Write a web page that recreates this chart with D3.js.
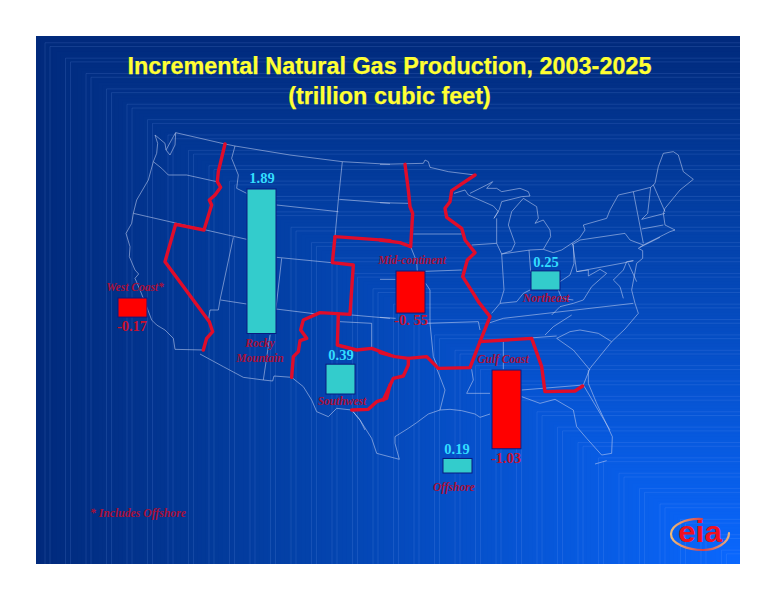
<!DOCTYPE html>
<html>
<head>
<meta charset="utf-8">
<script src="https://cdn.jsdelivr.net/npm/d3@7"></script>
<style>
  html, body { margin: 0; padding: 0; background: #fff; }
  svg { display: block; }
</style>
</head>
<body>
<div id="chart"></div>
<script>
// --- data ---
const regions = ["West Coast", "Rocky Mountain", "Southwest", "Mid-continent", "Northeast", "Gulf Coast", "Offshore"];
const valueLabels = ["-0.17", "1.89", "0.39", "-0. 55", "0.25", "-1.03", "0.19"];
const barValues = [-0.25, 1.89, 0.39, -0.55, 0.25, -1.03, 0.19];
const regionLabels = [["West Coast*"], ["Rocky", "Mountain"], ["Southwest"], ["Mid-continent"], ["Northeast"], ["Gulf Coast"], ["Offshore"]];

// --- layout ---
const W = 776, H = 600;
const panel = { x: 36, y: 36, w: 704, h: 528 };
const barWidth = 29;
const barCenter = d3.scaleOrdinal(regions, [132.5, 261.5, 340.5, 410.5, 545.5, 506.5, 457.5]);
const barBase = d3.scaleOrdinal(regions, [298, 333.5, 394, 271, 290, 370, 473]);
const barLength = d3.scaleLinear().domain([0, 1.89]).range([0, 144.5]);
const valuePos = [[132, 331], [262, 183], [341, 360], [411, 325], [546, 267], [506, 463], [457, 454]];
const labelPos = [[135, 291], [260, 347], [342, 405], [412, 264], [546, 302], [503, 363], [454, 491]];

const west = pts => pts.map(([x, y]) => [90 + x / 3, 130 + y / 3]);
const east = pts => pts.map(([x, y]) => [380 + x / 3, 130 + y / 3]);
const gulf = pts => pts.map(([x, y]) => [280 + x / 3, 340 + y / 3]);

const stateLines = [
  // Pacific coast and southern border
  west([[257,8],[250,20],[228,60],[240,75],[255,45],[257,8]]),
  west([[195,15],[203,40],[200,70],[190,95],[175,150],[140,210],[130,250],[125,280],[108,310],[120,350],[118,380],[135,420],[146,432],[135,445],[150,480],[170,530],[185,570],[200,585],[225,600],[250,625],[255,658],[340,660]]),
  west([[195,15],[225,40],[228,60]]),
  west([[330,672],[400,710],[460,742],[520,750],[548,753],[552,738],[605,742],[640,770],[665,810],[680,845],[715,860],[740,835],[785,840],[810,870],[825,900]]),
  gulf([[215,210],[240,240],[275,295],[290,340],[358,358],[345,310],[345,290],[385,265],[410,248],[445,222],[480,210],[510,208],[545,212],[585,222],[600,232],[630,222]]),
  gulf([[725,170],[780,190],[825,178],[880,210],[890,260],[920,295],[965,345],[995,340],[997,290],[950,190],[925,130],[925,90]]),
  gulf([[945,372],[980,362]]),
  // northern border, lakes, New England, Atlantic
  west([[257,8],[405,42],[435,48],[600,75],[757,95],[900,103]]),
  east([[0,103],[130,100],[135,90],[145,95],[150,112],[205,125],[285,135]]),
  east([[222,190],[255,180],[265,195],[340,228],[355,245],[342,265],[358,238],[365,215],[385,210],[425,200],[450,198],[445,185],[420,175],[365,185],[350,175],[320,175],[338,155],[320,165],[270,190]]),
  east([[350,265],[350,340],[365,372],[395,362],[405,340],[385,285],[395,245],[430,205],[470,230],[475,265],[465,280],[490,270],[510,300],[512,320],[490,358],[520,368],[545,360],[598,325],[615,300],[610,285],[680,265],[690,240],[715,195],[760,185],[812,172],[825,160],[835,110],[850,70],[880,65],[895,75],[910,125],[940,148],[900,180],[855,235],[850,250],[855,285],[885,300],[870,305],[850,315],[790,345],[775,355],[788,362],[788,385],[770,400],[755,480],[765,520],[775,550],[735,597],[695,635],[630,715],[610,765],[690,900]]),
  east([[780,352],[840,322]]),
  // northeast and mid-atlantic states
  east([[575,345],[600,330],[735,310],[750,330],[790,345]]),
  east([[578,340],[590,425],[735,398],[760,392]]),
  east([[760,185],[790,340]]),
  east([[812,172],[803,250],[785,268],[855,250]]),
  east([[785,297],[850,285]]),
  east([[820,165],[855,245]]),
  east([[760,392],[740,395],[730,420],[700,450],[720,470],[730,505]]),
  east([[745,400],[770,455]]),
  east([[365,372],[450,360],[490,358]]),
  east([[447,360],[452,425]]),
  east([[365,372],[372,480],[360,520],[335,550]]),
  east([[360,520],[410,515],[430,490],[450,480]]),
  east([[535,480],[545,505],[580,510]]),
  east([[580,345],[582,400],[570,435],[540,455]]),
  east([[590,425],[625,420],[625,438],[660,418],[680,430],[635,470],[610,510],[580,520],[540,530],[515,555]]),
  east([[330,578],[370,565],[760,520]]),
  east([[300,635],[530,618]]),
  east([[495,615],[520,590],[575,555]]),
  east([[530,625],[570,605],[600,600],[655,610],[695,635]]),
  east([[530,625],[580,660],[630,720]]),
  east([[425,780],[610,765]]),
  east([[370,635],[370,718]]),
  // plains and south
  east([[100,312],[245,312]]),
  east([[110,425],[245,420]]),
  east([[275,345],[350,340]]),
  east([[0,218],[85,220]]),
  east([[0,448],[47,448]]),
  east([[137,460],[150,480],[150,580],[160,680],[175,715]]),
  east([[0,562],[47,565]]),
  east([[137,580],[295,575],[300,600]]),
  east([[92,350],[110,395],[112,425]]),
  gulf([[470,85],[495,150],[480,210]]),
  gulf([[575,88],[580,120],[560,160],[630,160]]),
  // mountain west
  west([[435,48],[425,85],[445,135],[440,175],[470,190]]),
  west([[560,225],[745,245]]),
  west([[757,95],[745,210],[735,320]]),
  west([[748,208],[900,220]]),
  west([[560,382],[725,398]]),
  west([[130,250],[470,328]]),
  west([[430,322],[390,510],[385,540],[360,540],[355,575]]),
  west([[392,510],[470,522]]),
  west([[575,385],[558,535]]),
  west([[558,537],[680,552]]),
  west([[785,555],[900,565]]),
  west([[540,615],[520,750]]),
  west([[190,95],[215,115],[235,135],[290,135],[380,155]]),
  west([[750,575],[845,580],[845,660]])
];

const regionBorders = [
  west([[405,42],[385,125],[382,155],[392,172],[375,195],[358,210],[365,225],[342,300],[257,283],[225,395],[358,575],[368,605],[350,625],[340,660]]),
  west([[735,320],[727,398],[790,405],[780,553],[690,548],[640,570],[632,600],[650,625],[630,632],[625,665],[610,680],[605,742]]),
  west([[735,320],[900,332]]),
  east([[0,330],[60,338],[92,350],[98,250],[90,230],[85,180],[75,103]]),
  west([[745,555],[742,645],[800,660],[845,655],[900,675]]),
  east([[0,668],[45,680],[85,685],[140,680],[175,715],[270,713],[300,635],[455,625],[485,710],[495,785],[585,783],[608,768]]),
  east([[85,685],[85,705],[70,738],[40,745],[10,810]]),
  west([[900,765],[890,805],[860,815],[835,838],[785,840]]),
  east([[285,135],[215,182],[210,215],[195,235],[200,262],[245,295],[255,330],[285,368],[262,390],[248,440],[280,490],[295,515],[330,560],[300,635]])
];

// --- drawing ---
const svg = d3.select("#chart").append("svg").attr("width", W).attr("height", H);
const defs = svg.append("defs");
defs.append("clipPath").attr("id", "panel-clip").append("rect")
  .attr("x", panel.x).attr("y", panel.y).attr("width", panel.w).attr("height", panel.h);

// background: nested rectangles closing on the bottom right corner
const bg = svg.append("g").attr("clip-path", "url(#panel-clip)");
const shade = d3.scaleLinear().domain([0, 0.35, 1]).range(["#012a7c", "#0340a6", "#0a68ff"]).interpolate(d3.interpolateRgb);
const steps = d3.range(0, 1, 1 / 170);
bg.selectAll("rect.band").data(steps).join("rect").attr("class", "band")
  .attr("x", t => panel.x + t * panel.w).attr("y", t => panel.y + t * panel.h)
  .attr("width", t => panel.w * (1 - t) + 1).attr("height", t => panel.h * (1 - t) + 1)
  .attr("fill", t => shade(t));

const seams = d3.range(0, 35).flatMap(i => [9 + i * 20.5, 14 + i * 20.5]).filter(d => d < panel.w);
const seam = bg.selectAll("g.seam").data(seams).join("g").attr("class", "seam")
  .attr("stroke", "#8fb8ff").attr("stroke-opacity", 0.2).attr("stroke-width", 0.7).attr("fill", "none");
seam.append("path").attr("d", d => {
  const x = panel.x + d, y = panel.y + d * panel.h / panel.w;
  return `M${x},${panel.y + panel.h}V${y}H${panel.x + panel.w}`;
});

// map
const line = d3.line();
svg.append("g").selectAll("path").data(stateLines).join("path")
  .attr("d", line).attr("fill", "none")
  .attr("stroke", "#c3d0f0").attr("stroke-opacity", 0.8).attr("stroke-width", 0.7).attr("stroke-linejoin", "round");

svg.append("g").selectAll("path").data(regionBorders).join("path")
  .attr("d", line).attr("fill", "none")
  .attr("stroke", "#e00c2a").attr("stroke-width", 3.4).attr("stroke-linejoin", "round").attr("stroke-linecap", "round");

// bars
const rows = regions.map((r, i) => ({ region: r, value: barValues[i], label: valueLabels[i], name: regionLabels[i], vp: valuePos[i], lp: labelPos[i] }));
svg.append("g").selectAll("rect").data(rows).join("rect")
  .attr("x", d => barCenter(d.region) - barWidth / 2)
  .attr("y", d => d.value > 0 ? barBase(d.region) - barLength(d.value) : barBase(d.region))
  .attr("width", barWidth)
  .attr("height", d => barLength(Math.abs(d.value)))
  .attr("fill", d => d.value > 0 ? "#33cccc" : "#ff0000")
  .attr("stroke", "#0a1a80").attr("stroke-width", 1);

// value labels
svg.append("g").selectAll("text").data(rows).join("text")
  .attr("x", d => d.vp[0]).attr("y", d => d.vp[1])
  .attr("text-anchor", "middle")
  .style("font-family", "'Liberation Serif', serif").style("font-weight", "bold").style("font-size", "14.5px")
  .attr("fill", d => d.value > 0 ? "#33ddff" : "#c8102e")
  .text(d => d.label);

// region labels
const names = svg.append("g").selectAll("text").data(rows).join("text")
  .attr("text-anchor", "middle")
  .style("font-family", "'Liberation Serif', serif").style("font-weight", "bold").style("font-style", "italic").style("font-size", "11.5px")
  .attr("fill", "#a80f38");
names.selectAll("tspan").data(d => d.name.map((t, i) => ({ t, i, p: d.lp }))).join("tspan")
  .attr("x", d => d.p[0]).attr("y", d => d.p[1] + d.i * 15).text(d => d.t);

svg.append("text").attr("x", 90).attr("y", 517)
  .style("font-family", "'Liberation Serif', serif").style("font-weight", "bold").style("font-style", "italic").style("font-size", "11.7px")
  .attr("fill", "#a80f38").text("* Includes Offshore");

// title
const titleLines = ["Incremental Natural Gas Production, 2003-2025", "(trillion cubic feet)"];
svg.append("g").selectAll("text").data(titleLines).join("text")
  .attr("x", 389.5).attr("y", (d, i) => 74 + i * 30)
  .attr("text-anchor", "middle")
  .style("font-family", "'Liberation Sans', Arial, sans-serif").style("font-weight", "bold").style("font-size", "23.4px")
  .attr("fill", "#ffff33").attr("stroke", "#ffff33").attr("stroke-width", 0.25).text(d => d);

// eia logo
const logo = svg.append("g").attr("transform", "translate(700,534)");
const swoosh = defs.append("linearGradient").attr("id", "swoosh").attr("x1", 0).attr("x2", 1).attr("y1", 0).attr("y2", 0);
swoosh.append("stop").attr("offset", "0%").attr("stop-color", "#eebb77");
swoosh.append("stop").attr("offset", "55%").attr("stop-color", "#d8404a");
swoosh.append("stop").attr("offset", "100%").attr("stop-color", "#e8b080");
logo.append("path").attr("d", "M2,-15 C-14,-16 -29,-9 -29,0 C-29,10 -12,16 3,16 C16,16 29,9 29,-1")
  .attr("fill", "none").attr("stroke", "url(#swoosh)").attr("stroke-width", 2.2).attr("stroke-linecap", "round");
logo.append("text").attr("x", 0).attr("y", 8).attr("text-anchor", "middle")
  .attr("textLength", 44).attr("lengthAdjust", "spacingAndGlyphs")
  .style("font-family", "'Liberation Sans', Arial, sans-serif").style("font-weight", "bold").style("font-size", "30px")
  .attr("fill", "#ee1122").text("eia");
</script>
</body>
</html>
